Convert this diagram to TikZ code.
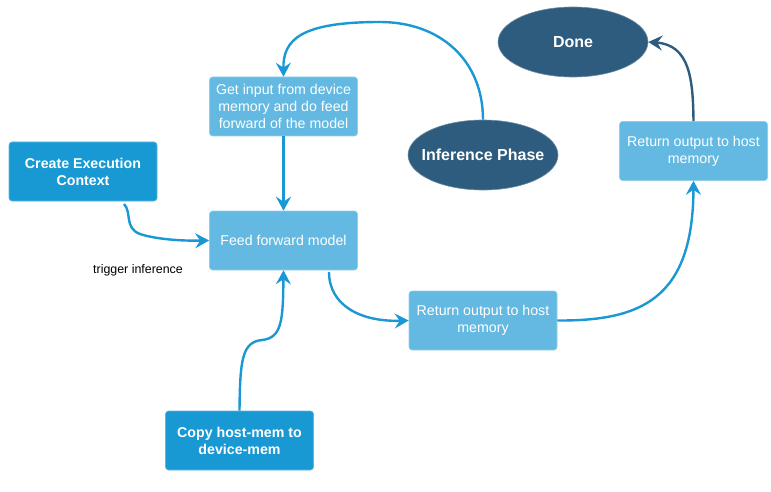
\documentclass[tikz,border=0pt]{standalone}
\usepackage{fontspec}
\setmainfont{Liberation Sans}
\usetikzlibrary{arrows.meta,shapes.geometric}
\definecolor{darkbox}{HTML}{1899D4}
\definecolor{lightbox}{HTML}{63B9E1}
\definecolor{ellfill}{HTML}{2E5C7E}
\definecolor{linecol}{HTML}{1A98D4}
\begin{document}
\begin{tikzpicture}[x=1pt,y=-1pt,
  dbox/.style={rectangle,rounded corners=3pt,fill=darkbox,draw=darkbox!70!white,line width=0.6pt,text=white,minimum width=148pt,minimum height=59pt,align=center,font=\fontsize{14.2}{17}\selectfont\bfseries,inner sep=0pt},
  lbox/.style={rectangle,rounded corners=3pt,fill=lightbox,draw=lightbox!70!white,line width=0.6pt,text=white,minimum width=148pt,minimum height=59pt,align=center,font=\fontsize{14.2}{16.8}\selectfont,inner sep=0pt},
  ell/.style={ellipse,fill=ellfill,draw=ellfill!70!white,line width=0.6pt,text=white,minimum width=150pt,minimum height=70pt,font=\fontsize{16}{18}\selectfont\bfseries,inner sep=0pt},
  conn/.style={draw=linecol,line width=2.4pt,-{Stealth[length=14pt,width=15pt,inset=5pt]}},
  dconn/.style={conn,draw=ellfill}]
\useasboundingbox (0,0) rectangle (771,492);
\node[dbox] (create) at (83,171.5) {Create Execution\\Context};
\node[lbox] (getin) at (283.5,106.5) {Get input from device\\memory and do feed\\forward of the model};
\node[lbox] (ff) at (283.5,240.5) {Feed forward model};
\node[lbox] (ret1) at (483,320.5) {Return output to host\\memory};
\node[lbox] (ret2) at (693.5,151) {Return output to host\\memory};
\node[dbox] (copy) at (239.5,440.5) {Copy host-mem to\\device-mem};
\node[ell] (inf) at (483,155) {\makebox[0pt]{Inference Phase}};
\node[ell] (done) at (573,42) {\makebox[0pt]{Done}};
\node[font=\fontsize{12.4}{14}\selectfont,text=black,inner sep=0pt] (trig) at (138,270) {trigger inference};
\coordinate (c1) at (124,204);
\draw[conn] (c1) .. controls (132,212) and (124,228) .. (140,234) .. controls (155,239) and (180,241) .. (ff.west);
\draw[conn] (getin.south) -- (ff.north);
\draw[conn] (inf.north) .. controls (483,60) and (440,22) .. (380,22) .. controls (300,22) and (283,40) .. (getin.north);
\draw[conn] (copy.north) .. controls (240,360) and (242,342) .. (262,340) .. controls (282,338) and (283,320) .. (ff.south);
\coordinate (ffs) at (329,272);
\draw[conn] (ffs) .. controls (329,305) and (360,322) .. (ret1.west);
\draw[conn] (ret1.east) .. controls (640,321) and (693,300) .. (ret2.south);
\draw[dconn] (ret2.north) .. controls (693,80) and (690,45) .. (done.east);
\end{tikzpicture}
\end{document}
